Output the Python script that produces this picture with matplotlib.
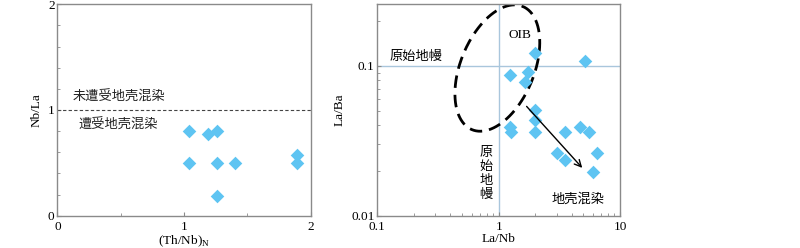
import numpy as np
import matplotlib
matplotlib.use("Agg")
import matplotlib.pyplot as plt

plt.rcParams['font.family'] = ['Liberation Serif', 'Noto Sans CJK SC']
plt.rcParams['font.size'] = 9

# left panel: (Th/Nb)N vs Nb/La
thnb_n = [1.04, 1.19, 1.26, 1.04, 1.26, 1.40, 1.26, 1.89, 1.89]
nb_la = [0.80, 0.775, 0.80, 0.50, 0.50, 0.50, 0.19, 0.57, 0.50]

# right panel: La/Nb vs La/Ba
la_nb = [2.01, 5.16, 1.23, 1.75, 1.64, 2.01, 2.01, 1.23, 1.27,
         2.01, 3.52, 4.64, 5.53, 3.03, 3.52, 6.49, 6.01]
la_ba = [0.122, 0.107, 0.0871, 0.0908, 0.0783, 0.0505, 0.0433, 0.0391, 0.0361,
         0.0361, 0.0361, 0.0388, 0.0359, 0.0261, 0.0234, 0.0260, 0.0196]

marker_color = "#5ec4f2"
spine_color = "#8a8a8a"
ref_color = "#a9c6dc"

fig = plt.figure(figsize=(8, 2.48), dpi=100)
ax1 = fig.add_axes([0.0717, 0.130, 0.3167, 0.853])
ax2 = fig.add_axes([0.4717, 0.130, 0.3033, 0.853])

for ax in (ax1, ax2):
    for s in ax.spines.values():
        s.set_color(spine_color)
        s.set_linewidth(1.0)
    ax.tick_params(direction="in", which="both", color=spine_color, length=3,
                   labelsize=9.5, pad=2, top=False, right=False)
    ax.tick_params(which="minor", length=2)
    ax.tick_params(axis="x", pad=4)

# ---- left panel
ax1.scatter(thnb_n, nb_la, marker="D", s=48, color=marker_color, linewidths=0, zorder=3)
ax1.axhline(1.0, color="#444444", lw=0.8, ls=(0, (3, 2)))
ax1.set_xlim(0, 2)
ax1.set_ylim(0, 2)
ax1.set_xticks([0, 1, 2])
ax1.set_yticks([0, 1, 2])
ax1.set_xticks([0.5, 1.5], minor=True)
ax1.set_yticks([0.2, 0.4, 0.6, 0.8, 1.2, 1.4, 1.6, 1.8], minor=True)
ax1.set_xlabel(r"(Th/Nb)$_\mathregular{N}$", fontsize=9.5, labelpad=0)
ax1.set_ylabel("Nb/La", fontsize=9.5, labelpad=4)
ax1.text(0.12, 1.12, "未遭受地壳混染", fontsize=9.5, color="#222222", va="center", ha="left")
ax1.text(0.17, 0.86, "遭受地壳混染", fontsize=9.5, color="#222222", va="center", ha="left")

# ---- right panel
ax2.set_xscale("log")
ax2.set_yscale("log")
ax2.set_xlim(0.1, 10)
ax2.set_ylim(0.01, 0.257)
ax2.axvline(1.0, color=ref_color, lw=1.0, zorder=1)
ax2.axhline(0.1, color=ref_color, lw=1.0, zorder=1)
ax2.scatter(la_nb, la_ba, marker="D", s=48, color=marker_color, linewidths=0, zorder=3)
ax2.set_xticks([0.1, 1, 10])
ax2.set_xticklabels(["0.1", "1", "10"])
ax2.set_yticks([0.01, 0.1])
ax2.set_yticklabels(["0.01", "0.1"])
ax2.set_xlabel("La/Nb", fontsize=9.5, labelpad=0)
ax2.set_ylabel("La/Ba", fontsize=9.5, labelpad=4)

# OIB field (tilted ellipse in log space)
t = np.linspace(0, 2 * np.pi, 200)
cx, cy = -0.011, -1.0155
major = np.array([0.208, 0.411])
minor = np.array([0.281, -0.092])
ex = cx + np.cos(t) * major[0] + np.sin(t) * minor[0]
ey = cy + np.cos(t) * major[1] + np.sin(t) * minor[1]
ax2.plot(10 ** ex, 10 ** ey, color="black", lw=2.0, ls=(0, (4.5, 2.5)), zorder=2)

ax2.annotate("", xy=(5.06, 0.0202), xytext=(1.64, 0.0553),
             arrowprops=dict(arrowstyle="->", color="black", lw=1.0,
                             mutation_scale=12), zorder=4)

ax2.text(1.49, 0.16, "OIB", fontsize=9.5, ha="center", va="center")
ax2.text(0.125, 0.1136, "原始地幔", fontsize=9.5, ha="left", va="center")
ax2.text(0.79, 0.019, "原\n始\n地\n幔", fontsize=9.5, ha="center", va="center",
         linespacing=1.25)
ax2.text(4.54, 0.0129, "地壳混染", fontsize=9.5, ha="center", va="center")

fig.savefig("out.png", dpi=100)
